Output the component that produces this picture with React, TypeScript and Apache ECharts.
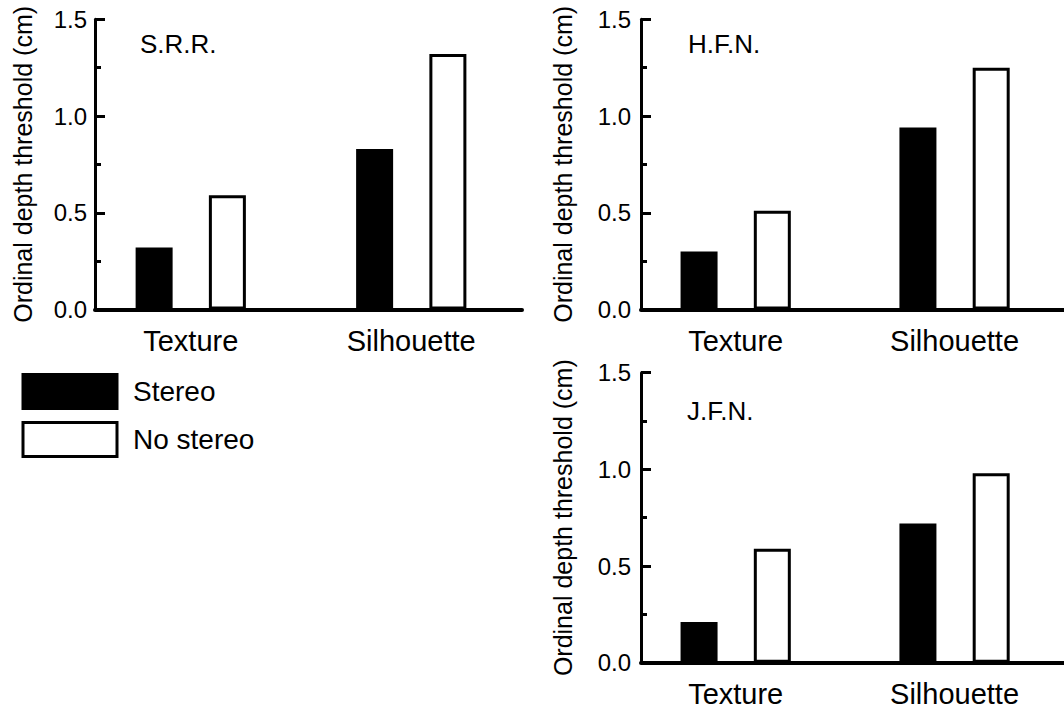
import React, { useEffect, useRef } from "react";
import * as echarts from "echarts";

const categories = ["Texture", "Silhouette"];
const seriesNames = ["Stereo", "No stereo"];
const panelNames = ["S.R.R.", "H.F.N.", "J.F.N."];
const srrStereo = [0.32, 0.83];
const srrNoStereo = [0.59, 1.32];
const hfnStereo = [0.3, 0.94];
const hfnNoStereo = [0.51, 1.25];
const jfnStereo = [0.21, 0.72];
const jfnNoStereo = [0.59, 0.98];
const yTicks = [0, 0.5, 1.0, 1.5];
const yAxisName = "Ordinal depth threshold (cm)";

const panelData = [
  [srrStereo, srrNoStereo],
  [hfnStereo, hfnNoStereo],
  [jfnStereo, jfnNoStereo],
];

const FONT = "Liberation Sans";

const layout = [
  { axisLeft: 95, axisWidth: 427, top: 19.25, height: 290.25, barLeft: 80.5, barWidth: 441, labelMargin: 8, nameGap: 60, titleLeft: 140, titleTop: 31 },
  { axisLeft: 641, axisWidth: 430, top: 19.25, height: 290.25, barLeft: 626.25, barWidth: 440, labelMargin: 10, nameGap: 66, titleLeft: 688, titleTop: 31 },
  { axisLeft: 641, axisWidth: 430, top: 372.7, height: 290, barLeft: 626.25, barWidth: 440, labelMargin: 10, nameGap: 66, titleLeft: 687, titleTop: 398 },
];

export default function App() {
  const ref = useRef<HTMLDivElement>(null);
  useEffect(() => {
    document.body.style.margin = "0";
    if (!ref.current) return;
    const chart = echarts.init(ref.current, undefined, { renderer: "svg" });
    const grids: any[] = [];
    const xAxes: any[] = [];
    const yAxes: any[] = [];
    const series: any[] = [];
    layout.forEach((L, p) => {
      grids.push({ left: L.axisLeft, top: L.top, width: L.axisWidth, height: L.height });
      grids.push({ left: L.barLeft, top: L.top, width: L.barWidth, height: L.height });
      const gA = p * 2;
      const gB = p * 2 + 1;
      xAxes.push({
        gridIndex: gA,
        type: "value",
        min: 0,
        max: 1,
        axisLine: { show: true, lineStyle: { color: "#000", width: 4 } },
        axisTick: { show: false },
        axisLabel: { show: false },
        splitLine: { show: false },
      });
      xAxes.push({
        gridIndex: gB,
        type: "category",
        data: categories,
        axisLine: { show: false },
        axisTick: { show: false },
        axisLabel: { show: true, color: "#000", fontSize: 29, fontFamily: FONT, margin: 17 },
        splitLine: { show: false },
      });
      yAxes.push({
        gridIndex: gA,
        type: "value",
        min: yTicks[0],
        max: yTicks[yTicks.length - 1],
        interval: yTicks[1] - yTicks[0],
        name: yAxisName,
        nameLocation: "middle",
        nameGap: L.nameGap,
        nameTextStyle: { color: "#000", fontSize: 25, fontFamily: FONT },
        axisLine: { show: true, lineStyle: { color: "#000", width: 3 } },
        axisTick: { show: true, inside: true, length: 10, lineStyle: { color: "#000", width: 3 } },
        minorTick: { show: true, splitNumber: 2, length: 6, lineStyle: { color: "#000", width: 3 } },
        axisLabel: {
          color: "#000",
          fontSize: 24,
          fontFamily: FONT,
          margin: L.labelMargin,
          formatter: (v: number) => v.toFixed(1),
        },
        splitLine: { show: false },
        minorSplitLine: { show: false },
      });
      yAxes.push({
        gridIndex: gB,
        type: "value",
        min: yTicks[0],
        max: yTicks[yTicks.length - 1],
        show: false,
      });
      const [st, ns] = panelData[p];
      series.push({
        name: seriesNames[0],
        type: "bar",
        xAxisIndex: gB,
        yAxisIndex: gB,
        data: st,
        barWidth: 37,
        barGap: "98%",
        itemStyle: { color: "#000", borderColor: "#000", borderWidth: 3 },
      });
      series.push({
        name: seriesNames[1],
        type: "bar",
        xAxisIndex: gB,
        yAxisIndex: gB,
        data: ns,
        barWidth: 37,
        barGap: "98%",
        itemStyle: { color: "#fff", borderColor: "#000", borderWidth: 3 },
      });
    });

    const option: any = {
      animation: false,
      backgroundColor: "#fff",
      textStyle: { fontFamily: FONT },
      title: layout.map((L, p) => ({
        text: panelNames[p],
        left: L.titleLeft,
        top: L.titleTop,
        padding: 0,
        textStyle: { color: "#000", fontSize: 26, fontWeight: "normal", fontFamily: FONT },
      })),
      legend: {
        orient: "vertical",
        left: 21.5,
        top: 373,
        padding: 0,
        itemWidth: 94,
        itemHeight: 34,
        itemGap: 11,
        icon: "rect",
        selectedMode: false,
        textStyle: { color: "#000", fontSize: 28, fontFamily: FONT, padding: [0, 0, 4, 11] },
        data: [
          { name: seriesNames[0], itemStyle: { color: "#000", borderColor: "#000", borderWidth: 3 } },
          { name: seriesNames[1], itemStyle: { color: "#fff", borderColor: "#000", borderWidth: 3 } },
        ],
      },
      grid: grids,
      xAxis: xAxes,
      yAxis: yAxes,
      series,
    };
    chart.setOption(option);
    return () => chart.dispose();
  }, []);
  return <div ref={ref} style={{ width: 1064, height: 711 }} />;
}
